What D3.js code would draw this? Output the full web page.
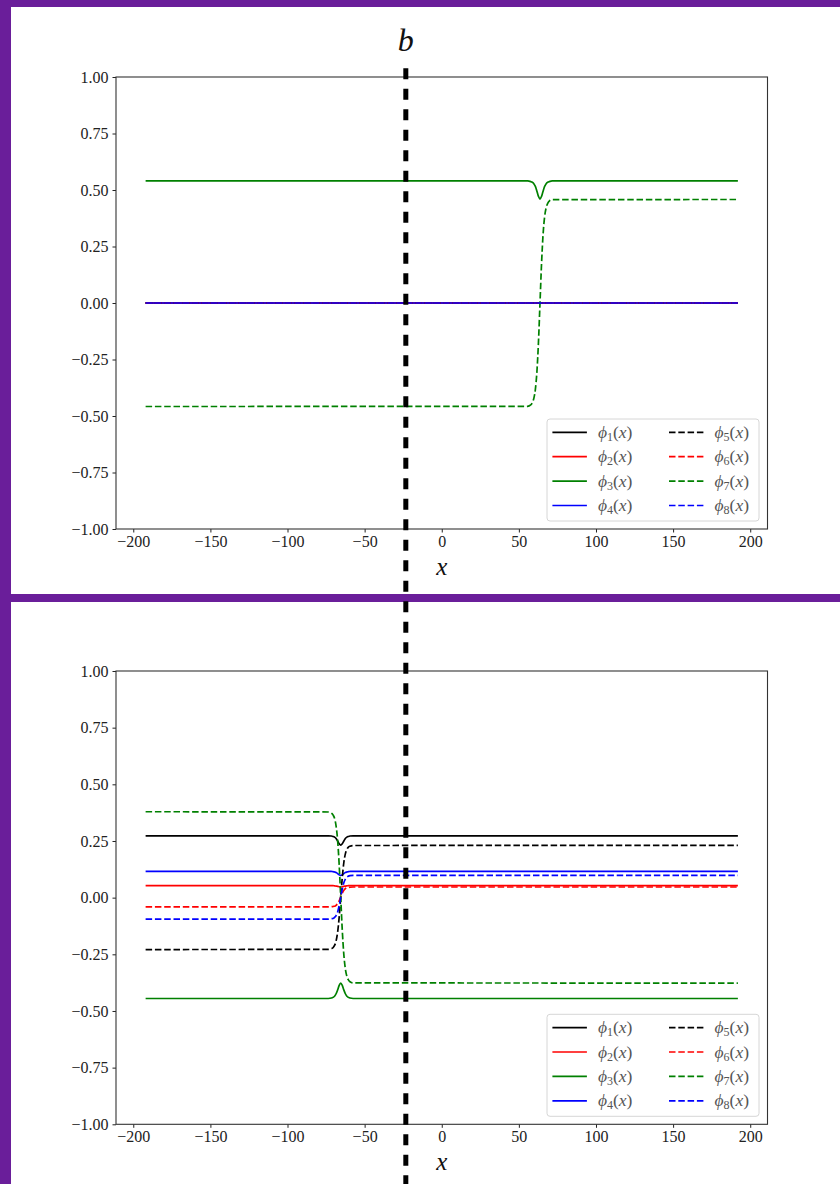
<!DOCTYPE html>
<html>
<head>
<meta charset="utf-8">
<script src="https://cdn.jsdelivr.net/npm/d3@7/dist/d3.min.js"></script>
<style>
  html, body { margin: 0; padding: 0; background: #fff; }
  svg { display: block; }
  text { font-family: "Liberation Serif", "DejaVu Serif", serif; }
</style>
</head>
<body>
<svg id="chart" width="840" height="1184"></svg>
<script>
// ---------- data ----------
const xTicks = [-200, -150, -100, -50, 0, 50, 100, 150, 200];
const yTicks = [-1.0, -0.75, -0.5, -0.25, 0.0, 0.25, 0.5, 0.75, 1.0];
const seriesNames = ["1", "2", "3", "4", "5", "6", "7", "8"];
const seriesColors = ["#000000", "#ff0000", "#008000", "#0000ff", "#000000", "#ff0000", "#008000", "#0000ff"];
const seriesDashed = [false, false, false, false, true, true, true, true];
const bLine = -23.3;

// top panel (kink at x ~ 63.7)
const topX = [-192, 55.7, 57.7, 58.7, 59.7, 60.7, 61.7, 62.7, 63.7, 64.7, 65.7, 66.7, 67.7, 68.7, 69.7, 71.7, 192];
const topPhi1 = [0, 0, 0, 0, 0, 0, 0, 0, 0, 0, 0, 0, 0, 0, 0, 0, 0];
const topPhi2 = [0, 0, 0, 0, 0, 0, 0, 0, 0, 0, 0, 0, 0, 0, 0, 0, 0];
const topPhi3 = [0.540, 0.540, 0.537, 0.534, 0.528, 0.516, 0.495, 0.472, 0.460, 0.472, 0.495, 0.516, 0.528, 0.534, 0.537, 0.540, 0.540];
const topPhi4 = [0, 0, 0, 0, 0, 0, 0, 0, 0, 0, 0, 0, 0, 0, 0, 0, 0];
const topPhi5 = [0, 0, 0, 0, 0, 0, 0, 0, 0, 0, 0, 0, 0, 0, 0, 0, 0];
const topPhi6 = [0, 0, 0, 0, 0, 0, 0, 0, 0, 0, 0, 0, 0, 0, 0, 0, 0];
const topPhi7 = [-0.458, -0.457, -0.451, -0.441, -0.422, -0.382, -0.304, -0.174, 0.0, 0.174, 0.304, 0.382, 0.422, 0.441, 0.451, 0.457, 0.458];
const topPhi8 = [0, 0, 0, 0, 0, 0, 0, 0, 0, 0, 0, 0, 0, 0, 0, 0, 0];

// bottom panel (kink at x ~ -65.5)
const botX = [-192, -73.5, -71.5, -70.5, -69.5, -68.5, -67.5, -66.5, -65.5, -64.5, -63.5, -62.5, -61.5, -60.5, -59.5, -57.5, 192];
const botPhi1 = [0.273, 0.273, 0.272, 0.270, 0.267, 0.261, 0.250, 0.238, 0.232, 0.238, 0.250, 0.261, 0.267, 0.270, 0.272, 0.273, 0.273];
const botPhi2 = [0.053, 0.053, 0.053, 0.053, 0.052, 0.051, 0.050, 0.048, 0.047, 0.048, 0.050, 0.051, 0.052, 0.053, 0.053, 0.053, 0.053];
const botPhi3 = [-0.445, -0.445, -0.443, -0.440, -0.435, -0.424, -0.407, -0.387, -0.377, -0.387, -0.407, -0.424, -0.435, -0.440, -0.443, -0.445, -0.445];
const botPhi4 = [0.116, 0.116, 0.1155, 0.115, 0.113, 0.1105, 0.106, 0.1005, 0.098, 0.1005, 0.106, 0.1105, 0.113, 0.115, 0.1155, 0.116, 0.116];
const botPhi5 = [-0.229, -0.228, -0.225, -0.221, -0.211, -0.191, -0.152, -0.086, 0.001, 0.088, 0.154, 0.193, 0.213, 0.223, 0.227, 0.230, 0.231];
const botPhi6 = [-0.041, -0.041, -0.040, -0.039, -0.038, -0.034, -0.026, -0.014, 0.003, 0.020, 0.032, 0.040, 0.044, 0.045, 0.046, 0.047, 0.047];
const botPhi7 = [0.379, 0.378, 0.373, 0.365, 0.350, 0.316, 0.252, 0.145, 0.001, -0.143, -0.250, -0.314, -0.348, -0.363, -0.371, -0.376, -0.377];
const botPhi8 = [-0.095, -0.095, -0.093, -0.092, -0.087, -0.079, -0.063, -0.035, 0.002, 0.038, 0.066, 0.082, 0.091, 0.095, 0.097, 0.098, 0.098];

const topSeries = [topPhi1, topPhi2, topPhi3, topPhi4, topPhi5, topPhi6, topPhi7, topPhi8];
const botSeries = [botPhi1, botPhi2, botPhi3, botPhi4, botPhi5, botPhi6, botPhi7, botPhi8];

// ---------- layout ----------
const W = 840, H = 1184;
const purple = "#6a1e9a";
const axLeft = 116, axRight = 767.5;
const panels = [
  { top: 77, bottom: 529, xs: topX, series: topSeries },
  { top: 671, bottom: 1124.3, xs: botX, series: botSeries }
];

const svg = d3.select("#chart");
svg.append("rect").attr("x", 0).attr("y", 0).attr("width", W).attr("height", H).attr("fill", "#fff");

const x = d3.scaleLinear().domain([-211.2, 211.2]).range([axLeft, axRight]);
const fmtY = v => { const s = d3.format(".2f")(Math.abs(v)); return (v < 0 ? "\u2212" : "") + s; };
const fmtX = v => (v < 0 ? "\u2212" : "") + Math.abs(v);

panels.forEach(p => {
  const y = d3.scaleLinear().domain([-1, 1]).range([p.bottom, p.top]);
  const g = svg.append("g");

  const clipId = "clip" + Math.round(p.top);
  g.append("clipPath").attr("id", clipId).append("rect")
    .attr("x", axLeft).attr("y", p.top).attr("width", axRight - axLeft).attr("height", p.bottom - p.top);

  const line = d3.line().x(d => x(d[0])).y(d => y(d[1])).curve(d3.curveMonotoneX);
  const lines = g.append("g").attr("clip-path", `url(#${clipId})`);
  p.series.forEach((vals, i) => {
    const pts = p.xs.map((xv, j) => [xv, vals[j]]);
    lines.append("path")
      .attr("d", line(pts))
      .attr("fill", "none")
      .attr("stroke", seriesColors[i])
      .attr("stroke-width", 1.7)
      .attr("stroke-dasharray", seriesDashed[i] ? "6.5,2.8" : null);
  });

  // axes
  const xAxis = d3.axisBottom(x).tickValues(xTicks).tickSize(3.5).tickPadding(3).tickFormat(fmtX);
  const yAxis = d3.axisLeft(y).tickValues(yTicks).tickSize(3.5).tickPadding(4).tickFormat(fmtY);
  const gx = g.append("g").attr("transform", `translate(0,${p.bottom})`).call(xAxis);
  const gy = g.append("g").attr("transform", `translate(${axLeft},0)`).call(yAxis);
  [gx, gy].forEach(a => {
    a.select(".domain").remove();
    a.selectAll(".tick line").attr("stroke", "#222").attr("stroke-width", 1);
    a.selectAll(".tick text").attr("font-size", 16).attr("fill", "#222")
      .attr("font-family", "'Liberation Serif', 'DejaVu Serif', serif");
  });
  // frame
  g.append("rect").attr("x", axLeft).attr("y", p.top).attr("width", axRight - axLeft).attr("height", p.bottom - p.top)
    .attr("fill", "none").attr("stroke", "#333").attr("stroke-width", 1.1);

  // x label
  g.append("text").attr("x", x(0)).attr("y", p.bottom + 46).attr("text-anchor", "middle")
    .attr("font-size", 25).attr("font-style", "italic").attr("fill", "#111").text("x");

  // legend
  const lgW = 212, lgH = 102;
  const lgX = axRight - 8.5 - lgW, lgY = p.bottom - 8 - lgH;
  const lg = g.append("g");
  lg.append("rect").attr("x", lgX).attr("y", lgY).attr("width", lgW).attr("height", lgH).attr("rx", 3)
    .attr("fill", "#fff").attr("fill-opacity", 0.85).attr("stroke", "#d6d6d6").attr("stroke-width", 1);
  seriesNames.forEach((nm, i) => {
    const col = i < 4 ? 0 : 1, row = i % 4;
    const ry = lgY + 13.3 + row * 24.4;
    const hx = lgX + 5.4 + col * 116.6;
    lg.append("line").attr("x1", hx).attr("x2", hx + 34.5).attr("y1", ry).attr("y2", ry)
      .attr("stroke", seriesColors[i]).attr("stroke-width", 1.7)
      .attr("stroke-dasharray", seriesDashed[i] ? "6.5,2.8" : null);
    const t = lg.append("text").attr("x", hx + 45.5).attr("y", ry + 5.5).attr("font-size", 17.5).attr("fill", "#555");
    t.append("tspan").attr("font-style", "italic").text("\u03D5");
    t.append("tspan").attr("font-size", 12).attr("dy", 3).text(nm);
    t.append("tspan").attr("dy", -3).text("(");
    t.append("tspan").attr("font-style", "italic").text("x");
    t.append("tspan").text(")");
  });
});

// purple frame bands
svg.append("rect").attr("x", 0).attr("y", 0).attr("width", W).attr("height", 7).attr("fill", purple);
svg.append("rect").attr("x", 0).attr("y", 0).attr("width", 11).attr("height", H).attr("fill", purple);
svg.append("rect").attr("x", 0).attr("y", 594).attr("width", W).attr("height", 8).attr("fill", purple);

// vertical dashed line at b spanning both panels
svg.append("line").attr("x1", x(bLine)).attr("x2", x(bLine)).attr("y1", 68.3).attr("y2", H)
  .attr("stroke", "#000").attr("stroke-width", 5).attr("stroke-dasharray", "11,9.5");
svg.append("text").attr("x", x(bLine)).attr("y", 51).attr("text-anchor", "middle")
  .attr("font-size", 32).attr("font-style", "italic").attr("fill", "#111").text("b");
</script>
</body>
</html>
